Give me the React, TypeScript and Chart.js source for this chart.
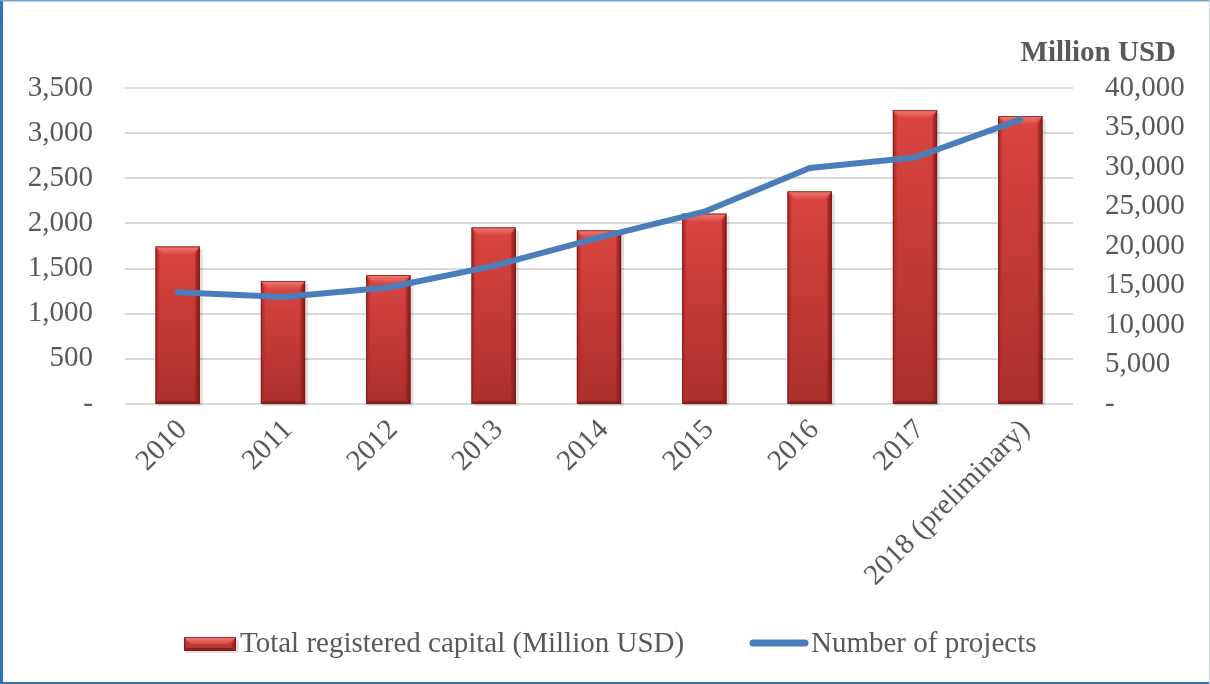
import React, { useEffect, useRef } from "react";
import { Chart, registerables } from "chart.js";

Chart.register(...registerables);

const categories = ["2010", "2011", "2012", "2013", "2014", "2015", "2016", "2017", "2018 (preliminary)"];
const capitalMillionUSD = [19950, 15570, 16330, 22370, 21990, 24100, 26930, 37210, 36450];
const numberOfProjects = [1237, 1186, 1290, 1530, 1843, 2130, 2615, 2730, 3150];
const leftAxisMax = 3500;
const leftAxisStep = 500;
const rightAxisMax = 40000;
const rightAxisStep = 5000;
const rightAxisTitle = "Million USD";
const barLabel = "Total registered capital (Million USD)";
const lineLabel = "Number of projects";

const FONT = "'Liberation Serif', 'Times New Roman', serif";
const TEXT = "#595959";
const BLUE = "#4a7ebb";

const fmt = (v: number) => (v === 0 ? "-" : v.toLocaleString("en-US"));

function drawBar(ctx: CanvasRenderingContext2D, x: number, top: number, base: number, w: number) {
  const x0 = x - w / 2;
  const x1 = x + w / 2;
  const h = base - top;
  ctx.save();
  ctx.fillStyle = "rgba(0,0,0,0.12)";
  ctx.fillRect(x1, top + 3, 3, h - 3);
  ctx.fillRect(x0 + 2, base, w, 2);
  const g = ctx.createLinearGradient(0, top, 0, base);
  g.addColorStop(0, "#da4541");
  g.addColorStop(1, "#ab2f2c");
  ctx.fillStyle = g;
  ctx.fillRect(x0, top, w, h);
  const b = Math.min(8, h / 2);
  const gl = ctx.createLinearGradient(x0, 0, x0 + b, 0);
  gl.addColorStop(0, "#a52522");
  gl.addColorStop(1, "rgba(210,60,56,0)");
  ctx.fillStyle = gl;
  ctx.beginPath();
  ctx.moveTo(x0, top);
  ctx.lineTo(x0 + b * 0.5, top + b);
  ctx.lineTo(x0 + b * 0.5, base - b * 0.5);
  ctx.lineTo(x0, base);
  ctx.closePath();
  ctx.fill();
  const gr = ctx.createLinearGradient(x1 - b, 0, x1, 0);
  gr.addColorStop(0, "rgba(160,30,28,0)");
  gr.addColorStop(1, "#7e1a18");
  ctx.fillStyle = gr;
  ctx.beginPath();
  ctx.moveTo(x1, top);
  ctx.lineTo(x1 - b * 0.6, top + b);
  ctx.lineTo(x1 - b * 0.6, base - b * 0.5);
  ctx.lineTo(x1, base);
  ctx.closePath();
  ctx.fill();
  const gt = ctx.createLinearGradient(0, top, 0, top + b);
  gt.addColorStop(0, "#ef7b76");
  gt.addColorStop(1, "#dc4a45");
  ctx.fillStyle = gt;
  ctx.beginPath();
  ctx.moveTo(x0, top);
  ctx.lineTo(x1, top);
  ctx.lineTo(x1 - b, top + b);
  ctx.lineTo(x0 + b, top + b);
  ctx.closePath();
  ctx.fill();
  ctx.fillStyle = "rgba(110,20,18,0.55)";
  ctx.beginPath();
  ctx.moveTo(x0, base);
  ctx.lineTo(x1, base);
  ctx.lineTo(x1 - 3, base - 3);
  ctx.lineTo(x0 + 3, base - 3);
  ctx.closePath();
  ctx.fill();
  ctx.strokeStyle = "rgba(120,25,22,0.7)";
  ctx.lineWidth = 1;
  ctx.strokeRect(x0 + 0.5, top + 0.5, w - 1, h - 1);
  ctx.restore();
}

const barStylePlugin = {
  id: "barStyle",
  afterDatasetDraw(chart: any, args: any) {
    if (args.index !== 0) return;
    const ctx = chart.ctx;
    const area = chart.chartArea;
    ctx.save();
    ctx.beginPath();
    ctx.rect(area.left, 0, area.right - area.left, area.bottom + 4);
    ctx.clip();
    args.meta.data.forEach((el: any) => {
      drawBar(ctx, el.x, el.y, el.base, el.width);
    });
    ctx.restore();
  },
};

const decorPlugin = {
  id: "decor",
  afterDraw(chart: any) {
    const ctx = chart.ctx;
    const W = chart.width;
    const H = chart.height;
    ctx.save();
    ctx.fillStyle = TEXT;
    ctx.font = `bold 29px ${FONT}`;
    ctx.textAlign = "right";
    ctx.textBaseline = "alphabetic";
    ctx.fillText(rightAxisTitle, 1176, 61);
    const ly = 644;
    ctx.font = `29px ${FONT}`;
    ctx.textAlign = "left";
    ctx.textBaseline = "middle";
    drawBar(ctx, 210, 637, 651, 52);
    ctx.fillStyle = TEXT;
    ctx.fillText(chart.data.datasets[0].label, 240, ly);
    ctx.strokeStyle = BLUE;
    ctx.lineWidth = 7;
    ctx.lineCap = "round";
    ctx.beginPath();
    ctx.moveTo(753, 643);
    ctx.lineTo(805, 643);
    ctx.stroke();
    ctx.fillText(chart.data.datasets[1].label, 811, ly);
    ctx.fillStyle = "#2e75b6";
    ctx.fillRect(0, 0, 3, H);
    ctx.fillRect(0, H - 2, W, 2);
    ctx.fillStyle = "#6fa0d6";
    ctx.fillRect(0, 0, W, 1.5);
    ctx.fillStyle = "#c9d7ea";
    ctx.fillRect(W - 1, 0, 1, H);
    ctx.restore();
  },
};

export default function App() {
  const ref = useRef<HTMLCanvasElement | null>(null);
  useEffect(() => {
    document.body.style.margin = "0";
    const canvas = ref.current;
    if (!canvas) return;
    const chart = new Chart(canvas, {
      type: "bar",
      data: {
        labels: categories,
        datasets: [
          {
            type: "bar",
            label: barLabel,
            data: capitalMillionUSD,
            yAxisID: "y1",
            backgroundColor: "rgba(0,0,0,0)",
            borderWidth: 0,
            barPercentage: 0.42,
            categoryPercentage: 1,
            order: 1,
          },
          {
            type: "line",
            label: lineLabel,
            data: numberOfProjects,
            yAxisID: "y",
            borderColor: BLUE,
            borderWidth: 6,
            pointRadius: 0,
            tension: 0,
            borderJoinStyle: "round",
            borderCapStyle: "round",
            order: 0,
          },
        ],
      } as any,
      options: {
        responsive: false,
        animation: false,
        devicePixelRatio: 1,
        layout: { padding: { top: 88, left: 0, right: 0, bottom: 0 } },
        plugins: {
          legend: { display: false },
          tooltip: { enabled: false },
        },
        scales: {
          x: {
            grid: { display: false },
            border: { display: false },
            ticks: {
              color: TEXT,
              font: { family: FONT, size: 29 },
              maxRotation: 45,
              minRotation: 45,
              padding: 1,
              labelOffset: 5,
            },
            afterFit(scale: any) {
              scale.height = 280;
            },
          },
          y: {
            position: "left",
            min: 0,
            max: leftAxisMax,
            border: { display: false },
            grid: { color: "#d9d9d9", lineWidth: 2, drawTicks: false },
            ticks: {
              stepSize: leftAxisStep,
              color: TEXT,
              font: { family: FONT, size: 29 },
              padding: 32,
              callback: (v: any) => fmt(Number(v)),
            },
            afterFit(scale: any) {
              scale.width = 125;
            },
          },
          y1: {
            position: "right",
            min: 0,
            max: rightAxisMax,
            border: { display: false },
            grid: { display: false, drawTicks: false },
            ticks: {
              stepSize: rightAxisStep,
              color: TEXT,
              font: { family: FONT, size: 29 },
              padding: 32,
              callback: (v: any) => fmt(Number(v)),
            },
            afterFit(scale: any) {
              scale.width = 137;
            },
          },
        },
      } as any,
      plugins: [barStylePlugin, decorPlugin],
    });
    return () => chart.destroy();
  }, []);
  return (
    <div style={{ width: 1210, height: 684, background: "#fff" }}>
      <canvas ref={ref} width={1210} height={684} style={{ display: "block" }} />
    </div>
  );
}
